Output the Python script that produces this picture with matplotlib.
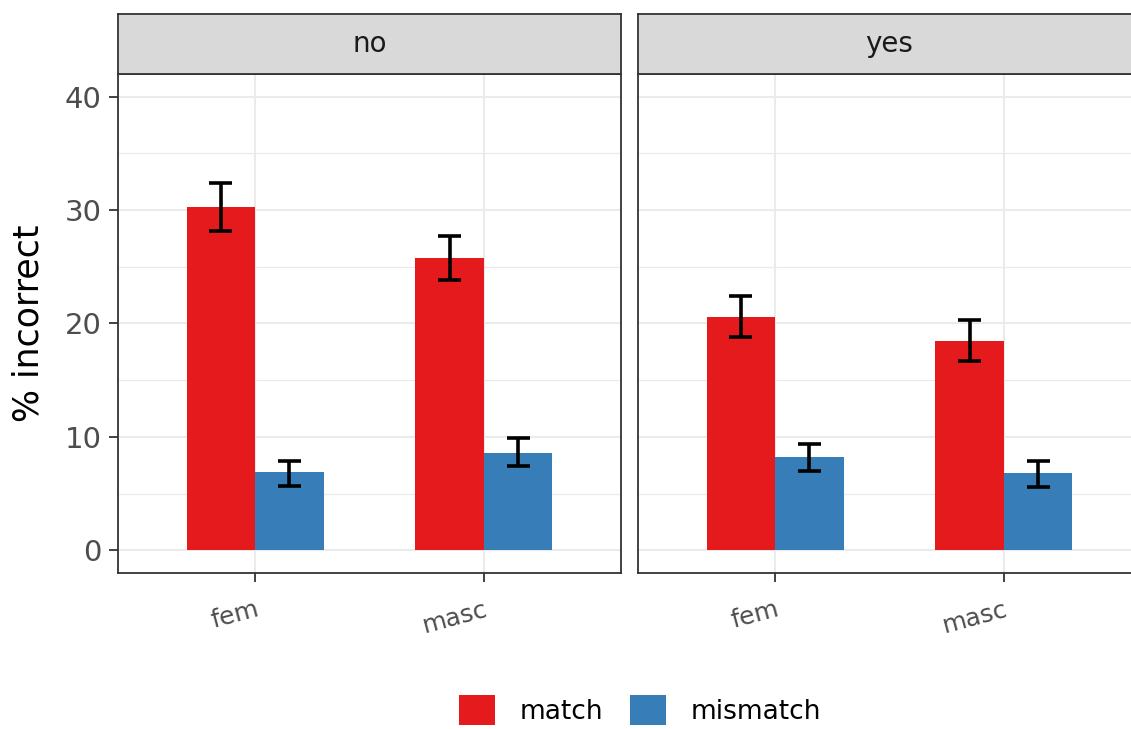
import matplotlib
matplotlib.use("Agg")
import matplotlib.pyplot as plt
from matplotlib.patches import Patch
from matplotlib.transforms import ScaledTranslation
import numpy as np

plt.rcParams['font.family'] = ['DejaVu Sans']

# Data
panels = ["no", "yes"]
genders = ["fem", "masc"]
conditions = ["match", "mismatch"]
colors = ["#E41A1C", "#377EB8"]

# mean % incorrect per panel, condition (fem, masc)
means = {
    "no":  {"match": [30.3, 25.8], "mismatch": [6.9, 8.6]},
    "yes": {"match": [20.6, 18.5], "mismatch": [8.2, 6.8]},
}
lower = {
    "no":  {"match": [28.2, 23.8], "mismatch": [5.7, 7.4]},
    "yes": {"match": [18.8, 16.7], "mismatch": [7.0, 5.6]},
}
upper = {
    "no":  {"match": [32.4, 27.7], "mismatch": [7.9, 9.9]},
    "yes": {"match": [22.4, 20.3], "mismatch": [9.4, 7.9]},
}
yticks = [0, 10, 20, 30, 40]

W, H = 1131, 729
fig = plt.figure(figsize=(W / 100, H / 100), dpi=100)

def px_rect(x0, y0, x1, y1):
    return [x0 / W, 1 - y1 / H, (x1 - x0) / W, (y1 - y0) / H]

panel_x = [(118, 621), (638, 1141)]
top, bottom, strip_top = 74, 573, 14
border = "#333333"
grid_c = "#EBEBEB"
bar_w = 0.3
cap_half = 0.05
err_lw = 2.6

for i, (p, (x0, x1)) in enumerate(zip(panels, panel_x)):
    ax = fig.add_axes(px_rect(x0, top, x1, bottom))
    x = np.arange(1, len(genders) + 1)
    for j, cond in enumerate(conditions):
        offs = (j - 0.5) * bar_w
        vals = np.array(means[p][cond])
        lo = np.array(lower[p][cond])
        hi = np.array(upper[p][cond])
        ax.bar(x + offs, vals, width=bar_w, color=colors[j], zorder=2)
        ax.vlines(x + offs, lo, hi, color="black", lw=err_lw, zorder=3)
        ax.hlines(np.concatenate([lo, hi]),
                  np.tile(x + offs - cap_half, 2), np.tile(x + offs + cap_half, 2),
                  color="black", lw=err_lw, zorder=3)
    ax.set_xlim(0.4, 2.6)
    ax.set_ylim(-2, 42)
    ax.set_xticks(x)
    ax.set_xticklabels(genders, fontsize=18, color="#4D4D4D")
    for lab in ax.get_xticklabels():
        lab.set_rotation(15)
        lab.set_ha("right")
        lab.set_va("top")
        lab.set_rotation_mode("anchor")
        lab.set_transform(lab.get_transform() +
                          ScaledTranslation(0.07, 0, fig.dpi_scale_trans))
    ax.set_yticks(yticks)
    ax.set_yticks([5, 15, 25, 35], minor=True)
    ax.grid(True, which="major", color=grid_c, lw=1.5, zorder=0)
    ax.grid(True, which="minor", axis="y", color=grid_c, lw=0.9, zorder=0)
    ax.set_axisbelow(True)
    ax.tick_params(axis="both", which="major", length=6.5, width=1.3,
                   color=border)
    ax.tick_params(axis="y", which="major", pad=5.5)
    ax.tick_params(axis="x", which="major", pad=11)
    ax.tick_params(axis="y", which="minor", length=0)
    for s in ax.spines.values():
        s.set_color(border)
        s.set_linewidth(1.3)
    if i == 0:
        ax.set_yticklabels([str(t) for t in yticks], fontsize=21, color="#4D4D4D")
        ax.set_ylabel("% incorrect", fontsize=25, color="black", va="center")
        ax.yaxis.set_label_coords(-0.177, 0.5)
    else:
        ax.tick_params(axis="y", labelleft=False, length=0)

    # facet strip
    sax = fig.add_axes(px_rect(x0, strip_top, x1, top))
    sax.set_xlim(0, 1)
    sax.set_ylim(0, 1)
    sax.set_facecolor("#D9D9D9")
    sax.set_xticks([])
    sax.set_yticks([])
    for s in sax.spines.values():
        s.set_color(border)
        s.set_linewidth(1.3)
    sax.text(0.5, 0.5, p, ha="center", va="center", fontsize=20, color="#1A1A1A")

handles = [Patch(facecolor=c, edgecolor="none") for c in colors]
fig.legend(handles, conditions, loc="center", bbox_to_anchor=(640 / W, 1 - 710 / H),
           ncol=2, frameon=False, fontsize=19, handlelength=1.36, handleheight=1.36,
           columnspacing=1.0, handletextpad=0.95, borderpad=0, borderaxespad=0)

fig.savefig("out.png", dpi=100)
